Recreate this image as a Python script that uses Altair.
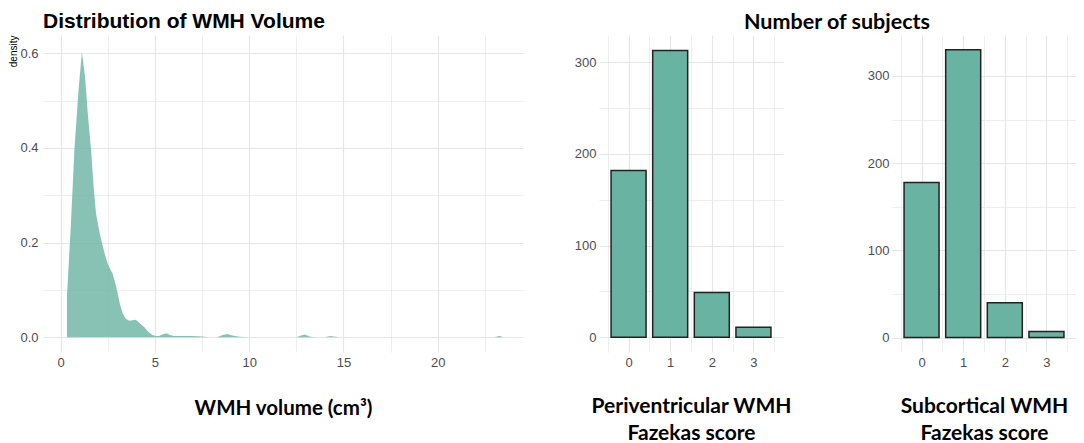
import altair as alt
import pandas as pd

# ---- data ----
vol_x = [0.34, 0.55, 0.74, 0.95, 1.13, 1.30, 1.45, 1.62, 1.75, 1.88, 2.05, 2.20,
         2.35, 2.50, 2.65, 2.76, 2.90, 3.03, 3.15, 3.29, 3.45, 3.64, 3.80, 3.99,
         4.20, 4.43, 4.65, 4.87, 5.05, 5.22, 5.40, 5.62, 5.80, 6.01, 6.50, 7.00,
         7.50, 7.90, 8.30, 8.60, 8.85, 9.10, 9.50, 9.90, 12.50, 12.75, 12.95,
         13.20, 13.50, 14.00, 14.30, 14.60, 14.80, 23.00, 23.25, 23.40]
vol_density = [0.086, 0.24, 0.40, 0.52, 0.603, 0.55, 0.47, 0.396, 0.32, 0.262, 0.225, 0.199,
               0.175, 0.156, 0.143, 0.135, 0.115, 0.093, 0.070, 0.051, 0.040, 0.035, 0.036, 0.037,
               0.030, 0.022, 0.012, 0.005, 0.003, 0.003, 0.006, 0.0085, 0.005, 0.003, 0.003, 0.003,
               0.002, 0.0, 0.0, 0.005, 0.007, 0.004, 0.001, 0.0, 0.0, 0.004, 0.006,
               0.002, 0.0, 0.0, 0.003, 0.001, 0.0, 0.0, 0.003, 0.002]

scores = [0, 1, 2, 3]
peri_counts = [182, 313, 49, 11]
sub_counts = [178, 330, 40, 7]

x_ticks_vol = [0, 2.5, 5, 7.5, 10, 12.5, 15, 17.5, 20, 22.5]
y_ticks_dens = [0, 0.1, 0.2, 0.3, 0.4, 0.5, 0.6]
x_ticks_score = [-0.5, 0, 0.5, 1, 1.5, 2, 2.5, 3, 3.5]
y_ticks_peri = [0, 50, 100, 150, 200, 250, 300]
y_ticks_sub = [0, 50, 100, 150, 200, 250, 300]

# ---- styling ----
TEAL = "#69b3a2"
GRID = "#e6e6e6"
TICK_FONT = "Liberation Sans"
BOLD_FONT = "Lato"
LABEL_COLOR = "#4d4d4d"
PLOT_H = 317


def gw(minor_test):
    return {"condition": {"test": minor_test, "value": 0.7}, "value": 1.2}


common_axis = dict(
    ticks=False, domain=False, gridColor=GRID,
    labelFont=TICK_FONT, labelFontSize=13, labelColor=LABEL_COLOR,
)

dens = pd.DataFrame({"vol": vol_x, "density": vol_density})

left = alt.Chart(dens).mark_area(color=TEAL, opacity=0.8, interpolate="linear").encode(
    x=alt.X("vol:Q",
            scale=alt.Scale(domain=[-0.93, 24.52], nice=False, zero=False),
            axis=alt.Axis(values=x_ticks_vol,
                          labelExpr="datum.value % 5 == 0 ? format(datum.value, 'd') : ''",
                          gridWidth=gw("datum.value % 5 != 0"),
                          labelPadding=4,
                          title="WMH volume (cm³)", titleFont=BOLD_FONT, titleFontSize=20.5,
                          titleFontWeight="bold", titleColor="black", titlePadding=29,
                          **common_axis)),
    y=alt.Y("density:Q",
            scale=alt.Scale(domain=[-0.031, 0.6387], nice=False, zero=False),
            axis=alt.Axis(values=y_ticks_dens,
                          labelExpr="round(datum.value * 10) % 2 == 0 ? format(datum.value, '.1f') : ''",
                          gridWidth=gw("round(datum.value * 10) % 2 != 0"),
                          labelPadding=5,
                          title="density", titleFont=TICK_FONT, titleFontSize=10,
                          titleFontWeight="normal", titleColor="black", titleAnchor="end",
                          titlePadding=1,
                          **common_axis)),
    y2=alt.datum(0),
).properties(
    width=480, height=PLOT_H,
    title=alt.TitleParams("Distribution of WMH Volume", anchor="start", frame="group",
                          font=TICK_FONT, fontSize=21, fontWeight="bold", color="black",
                          offset=3),
)


def bar_panel(counts, ydom, yticks, xtitle, title=None):
    df = pd.DataFrame({"score": scores, "n": counts})
    ch = alt.Chart(df).mark_bar(size=35, fill=TEAL, stroke="#222222", strokeWidth=1.5).encode(
        x=alt.X("score:Q",
                scale=alt.Scale(domain=[-0.59, 3.59], nice=False, zero=False),
                axis=alt.Axis(values=x_ticks_score,
                              labelExpr="datum.value % 1 == 0 ? format(datum.value, 'd') : ''",
                              gridWidth=gw("datum.value % 1 != 0"),
                              labelPadding=4,
                              title=xtitle, titleFont=BOLD_FONT, titleFontSize=21,
                              titleFontWeight="bold", titleColor="black", titlePadding=26,
                              titleLineHeight=27,
                              **common_axis)),
        y=alt.Y("n:Q",
                scale=alt.Scale(domain=ydom, nice=False, zero=False),
                axis=alt.Axis(values=yticks,
                              labelExpr="datum.value % 100 == 0 ? format(datum.value, 'd') : ''",
                              gridWidth=gw("datum.value % 100 != 0"),
                              labelPadding=3, title=None,
                              **common_axis)),
        y2=alt.datum(0),
    )
    if title is not None:
        return ch.properties(width=184, height=PLOT_H, title=title)
    return ch.properties(width=184, height=PLOT_H)


mid_title = alt.TitleParams("Number of subjects", anchor="middle", frame="group", dx=146,
                            font=BOLD_FONT, fontSize=21.5, fontWeight="bold", color="black",
                            offset=2)

mid = bar_panel(peri_counts, [-16.0, 329.8], y_ticks_peri,
                ["Periventricular WMH", "Fazekas score"], title=mid_title)
right = bar_panel(sub_counts, [-16.5, 347.0], y_ticks_sub,
                  ["Subcortical WMH", "Fazekas score"])


def spacer(w):
    return alt.Chart(pd.DataFrame({"a": [0]})).mark_point(opacity=0).encode(
        x=alt.value(0), y=alt.value(0)
    ).properties(width=w, height=PLOT_H)


chart = alt.hconcat(
    left, spacer(76), mid, spacer(109), right, spacing=0, bounds="flush"
).properties(
    padding={"top": 3, "left": 0, "right": 0, "bottom": 0}, background="white"
).configure_view(strokeWidth=0)

chart.save("out.html", embed_options={"renderer": "svg", "actions": False})
